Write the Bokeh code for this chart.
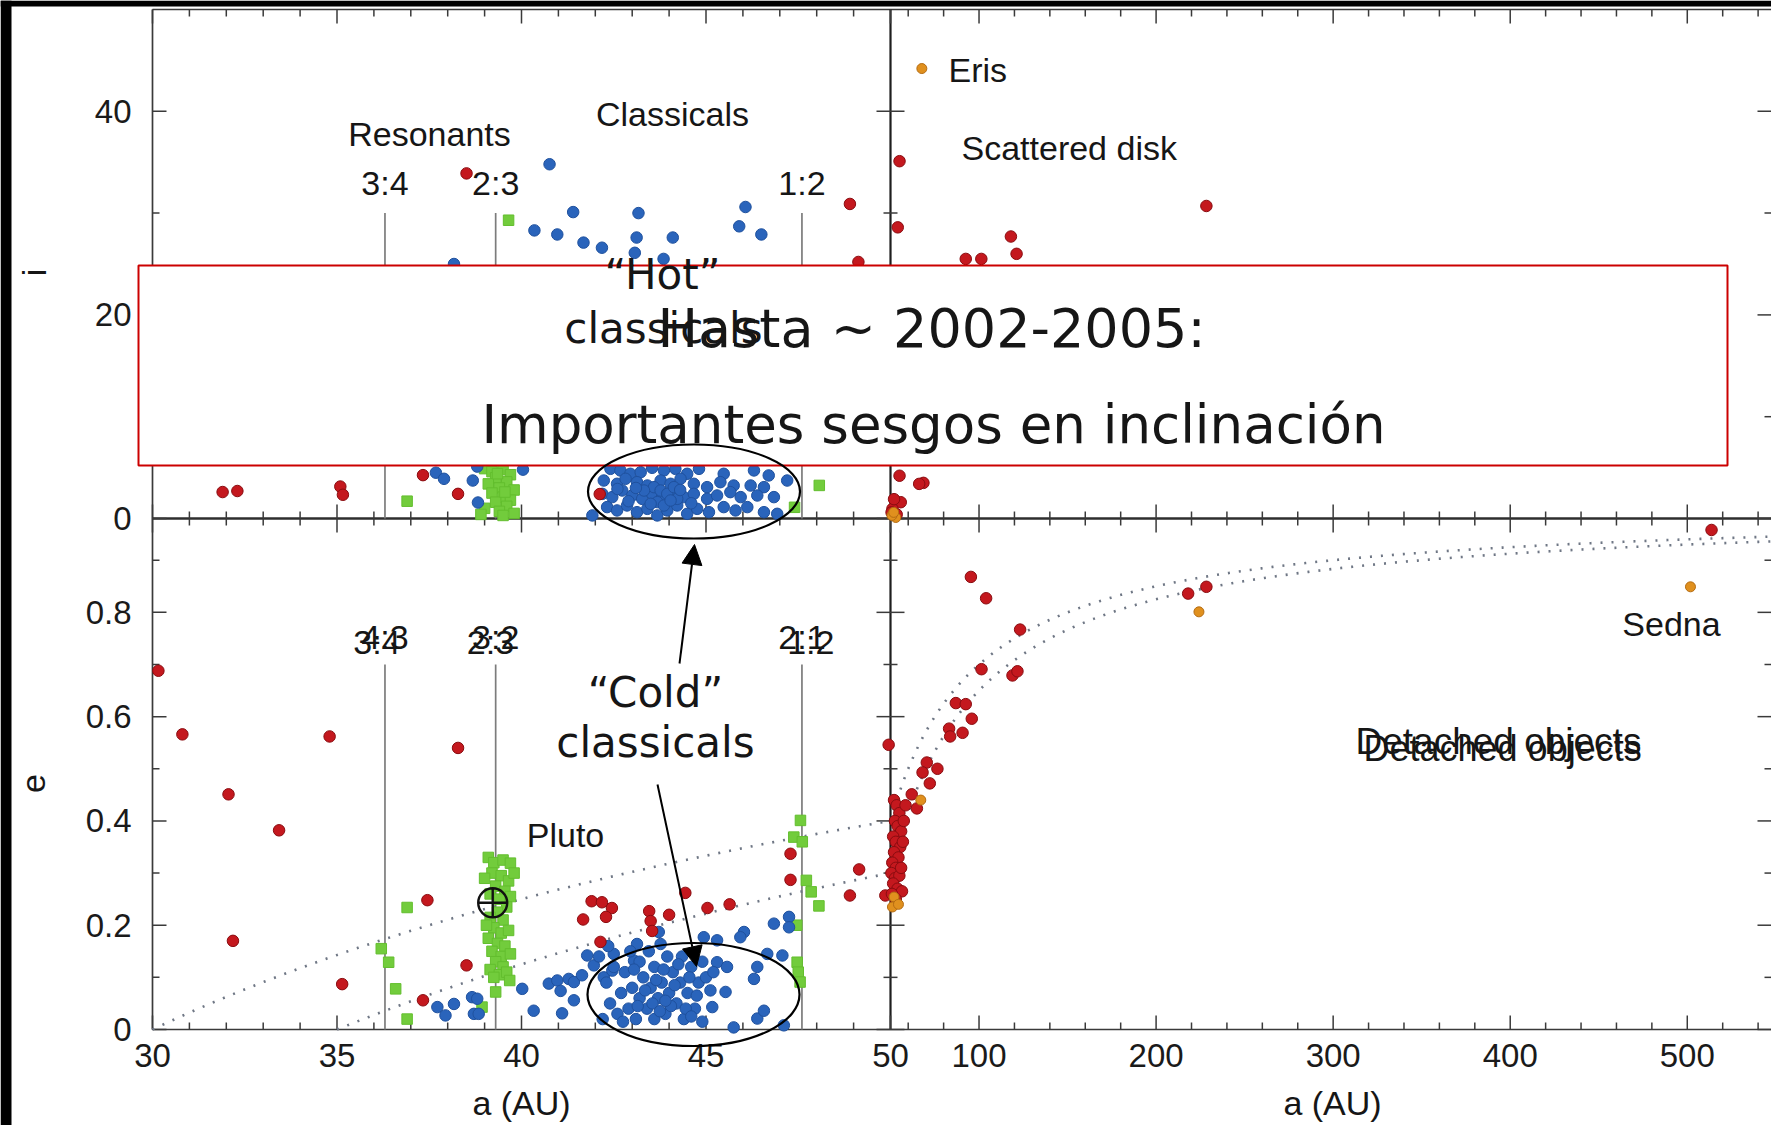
import numpy as np
from bokeh.core.properties import value
from bokeh.embed import file_html
from bokeh.models import Arrow, Label, NormalHead, Range1d
from bokeh.plotting import figure
from bokeh.resources import INLINE

# ------------------------------------------------------------------ data
# Neptune resonances (semimajor axis, AU)
RES_A = [36.3, 39.3, 47.6]
RES_TOP = ["3:4", "2:3", "1:2"]
RES_BOT = ["4:3", "3:2", "2:1"]

# perihelion distances of the reference curves e = 1 - q/a
Q_CURVES = [30, 35]

# ticks
I_TICKS = [0, 20, 40]
I_LABELS = ["0", "20", "40"]
I_MINOR = [10, 30]
E_TICKS = [0, 0.2, 0.4, 0.6, 0.8]
E_LABELS = ["0", "0.2", "0.4", "0.6", "0.8"]
E_MINOR = [0.1, 0.3, 0.5, 0.7, 0.9]
AIN_TICKS = [30, 35, 40, 45, 50]
AIN_LABELS = ["30", "35", "40", "45", "50"]
AIN_MINOR = [31, 32, 33, 34, 36, 37, 38, 39, 41, 42, 43, 44, 46, 47, 48, 49]
AOUT_TICKS = [100, 200, 300, 400, 500]
AOUT_LABELS = ["100", "200", "300", "400", "500"]
AOUT_MINOR = [60, 80, 120, 140, 160, 180, 220, 240, 260, 280, 320, 340, 360, 380,
              420, 440, 460, 480, 520, 540]

# --- inclination panel (a in AU, i in deg), inner region 30-50 AU
blue_i_a = [40.76, 41.4, 43.17, 46.07, 45.9, 46.5, 40.35, 40.97, 41.68, 42.18, 43.12,
            44.1, 43.07, 43.85, 38.17, 37.68, 37.9, 38.68, 38.82, 38.8, 40.04,
            42.41, 42.68, 42.95, 43.23, 43.54, 43.86, 44.17, 44.49, 44.81, 45.48, 46.3, 46.7, 47.2,
            42.23, 42.59, 42.82, 43.13, 43.41, 43.77, 44.04, 44.31, 44.67, 45.03, 45.39, 45.75, 46.21, 46.57,
            42.19, 42.46, 42.73, 43.0, 43.27, 43.54, 43.81, 44.08, 44.4, 44.67, 45.03, 45.3, 45.66, 45.94, 46.39, 46.84,
            41.92, 42.32, 42.59, 42.86, 43.13, 43.41, 43.68, 43.95, 44.22, 44.49, 44.76, 45.08, 45.48, 45.8, 46.12, 46.57, 46.93,
            43.59, 43.77, 43.95, 44.13, 44.22, 43.68, 43.86, 44.04, 43.5, 43.32, 44.3, 43.1, 42.9, 44.6, 42.6]
blue_i_i = [34.8, 30.1, 30.0, 30.6, 28.7, 27.9, 28.3, 27.9, 27.1, 26.6, 27.6,
            27.6, 26.1, 25.5, 25.0, 4.5, 3.9, 3.73, 1.57, 5.1, 4.8,
            4.88, 4.72, 4.39, 4.55, 4.98, 4.72, 4.88, 4.39, 4.88, 4.39, 4.72, 4.23, 3.73,
            3.73, 3.41, 3.9, 3.57, 3.24, 3.73, 3.41, 3.9, 3.41, 3.08, 3.57, 3.24, 3.24, 3.08,
            2.42, 2.1, 2.75, 2.26, 1.93, 2.42, 2.1, 2.59, 2.1, 2.42, 1.93, 2.26, 2.59, 2.1, 2.26, 2.1,
            0.3, 1.12, 0.79, 1.28, 0.62, 0.95, 0.3, 0.79, 1.28, 0.46, 0.95, 0.62, 1.12, 0.79, 1.12, 0.62, 0.46,
            3.08, 2.75, 2.42, 3.08, 1.93, 1.61, 1.28, 1.77, 1.44, 2.75, 2.8, 3.0, 1.7, 1.5, 2.9]
red_i_a = [38.51, 48.9, 49.13, 31.9, 32.3, 35.09, 35.16, 37.33, 38.28, 42.12]
red_i_i = [33.9, 30.9, 25.2, 2.6, 2.7, 3.14, 2.33, 4.26, 2.42, 2.4]
green_i_a = [39.65, 36.9, 39.0, 39.2, 39.5, 39.7, 39.3, 39.6, 39.1, 39.4, 39.8, 39.2, 39.5,
             39.7, 39.3, 39.6, 39.0, 39.4, 39.8, 38.9, 39.5, 39.35, 39.55, 48.07, 47.4]
green_i_i = [29.3, 1.7, 4.9, 4.6, 4.8, 4.3, 4.0, 3.6, 3.4, 3.0, 2.8, 2.5, 2.1,
             1.8, 1.6, 1.2, 1.0, 0.7, 0.5, 0.4, 0.3, 4.4, 2.6, 3.25, 1.1]
# outer region 50-550 AU
red_io_a = [55.1, 54.1, 228.4, 118.0, 121.2, 92.5, 101.3, 55.1, 68.6, 55.8, 51.1, 52.0, 50.6, 53.5, 66.2]
red_io_i = [35.1, 28.6, 30.7, 27.7, 26.0, 25.5, 25.5, 4.2, 3.5, 1.6, 0.95, 1.9, 0.6, 0.4, 3.4]
orange_io_a = [67.7, 53.0, 50.8, 51.8]
orange_io_i = [44.2, 0.1, 0.3, 0.6]

# --- eccentricity panel (a in AU, e), inner region
red_e_a = [30.16, 30.81, 32.06, 32.18, 33.43, 34.8, 35.14, 38.28, 37.45, 38.51, 37.33,
           41.67, 41.9, 42.18, 42.45, 42.29, 42.14, 43.46, 43.5, 43.54, 44.0, 44.44,
           45.04, 45.64, 47.29, 47.29, 48.9, 49.15, 49.86, 49.95]
red_e_e = [0.688, 0.566, 0.451, 0.170, 0.382, 0.562, 0.087, 0.540, 0.248, 0.123, 0.056,
           0.211, 0.246, 0.244, 0.233, 0.216, 0.168, 0.227, 0.208, 0.189, 0.220, 0.262,
           0.233, 0.240, 0.337, 0.287, 0.257, 0.307, 0.257, 0.546]
green_e_a = [36.2, 36.4, 36.59, 36.9, 36.9,
             39.1, 39.25, 39.5, 39.7, 39.2, 39.45, 39.65, 39.3, 39.55, 39.15, 39.4, 39.7,
             39.6, 39.35, 39.15, 39.5, 39.25, 39.45, 39.65, 39.1, 39.35, 39.55, 39.2, 39.45,
             39.7, 39.3, 39.5, 39.15, 39.4, 39.6, 39.25, 39.3, 39.68, 38.93, 39.0, 39.8, 39.05,
             47.56, 47.38, 47.61, 47.72, 47.85, 48.06, 47.46, 47.47, 47.5, 47.55]
green_e_e = [0.155, 0.129, 0.078, 0.02, 0.234,
             0.33, 0.32, 0.325, 0.319, 0.30, 0.295, 0.285, 0.275, 0.265, 0.26, 0.25, 0.255,
             0.235, 0.225, 0.215, 0.21, 0.195, 0.185, 0.19, 0.175, 0.165, 0.16, 0.15, 0.14,
             0.145, 0.13, 0.12, 0.115, 0.105, 0.11, 0.10, 0.072, 0.094, 0.043, 0.29, 0.30, 0.2,
             0.401, 0.369, 0.36, 0.286, 0.264, 0.237, 0.2, 0.129, 0.11, 0.091]
blue_e_a = [37.72, 37.94, 38.17, 38.66, 38.8, 38.71, 38.84, 40.02, 40.33, 40.74, 40.97,
            41.06, 41.1, 41.28, 41.42, 41.42, 41.64, 41.78, 41.96, 42.23, 42.46,
            46.84, 47.25, 47.25, 46.03, 45.93, 44.94, 45.3, 43.72, 43.77, 43.13, 42.5,
            43.05, 46.66, 47.07, 46.39, 45.3, 45.57, 46.3, 45.12, 45.53, 45.17, 46.39,
            46.57, 45.75, 47.11,
            42.2, 42.4, 42.3, 42.6, 42.7, 42.5, 42.8, 42.9, 43.0, 43.1, 43.2, 43.3, 43.4,
            43.5, 43.6, 43.6, 43.7, 43.8, 43.9, 44.0, 44.1, 44.2, 44.3, 44.4, 44.5, 44.6,
            44.7, 44.8, 44.9, 43.2, 43.45, 43.95, 44.35, 42.95, 43.55, 43.75, 44.05, 44.15,
            43.35, 43.85, 44.55, 44.75, 42.75, 43.05, 43.65, 44.25, 44.45, 43.15, 43.9,
            44.6, 45.0, 45.2, 44.9, 42.1, 42.35]
blue_e_e = [0.043, 0.027, 0.049, 0.062, 0.059, 0.030, 0.030, 0.078, 0.036, 0.088, 0.094,
            0.074, 0.031, 0.097, 0.091, 0.056, 0.104, 0.142, 0.123, 0.100, 0.113,
            0.203, 0.216, 0.196, 0.187, 0.177, 0.177, 0.171, 0.187, 0.164, 0.164, 0.145,
            0.132, 0.145, 0.142, 0.120, 0.129, 0.120, 0.097, 0.075, 0.072, 0.043, 0.021,
            0.036, 0.004, 0.008,
            0.02, 0.05, 0.09, 0.03, 0.07, 0.12, 0.11, 0.04, 0.08, 0.02, 0.06, 0.10, 0.04,
            0.08, 0.02, 0.12, 0.06, 0.09, 0.03, 0.07, 0.11, 0.05, 0.09, 0.02, 0.07, 0.12,
            0.04, 0.09, 0.13, 0.13, 0.15, 0.14, 0.14, 0.15, 0.05, 0.035, 0.045, 0.085,
            0.075, 0.115, 0.10, 0.065, 0.015, 0.115, 0.095, 0.125, 0.04, 0.045, 0.055,
            0.025, 0.10, 0.11, 0.015, 0.14, 0.16]
# outer region
red_eo_a = [95.4, 104.0, 123.2, 101.4, 118.9, 121.7, 86.9, 92.5, 95.9, 83.1, 83.7, 90.7,
            70.5, 76.5, 68.1, 72.2, 62.0, 64.9, 218.1, 228.4, 513.7,
            52.0, 53.5, 55.0, 52.5, 54.0, 56.0, 51.5, 53.0, 55.5, 52.0, 54.5, 51.0, 53.0,
            50.5, 52.5, 55.0, 51.5, 54.0, 56.5, 50.8, 53.0, 57.0, 58.5, 57.5, 56.0]
red_eo_e = [0.868, 0.827, 0.767, 0.691, 0.679, 0.687, 0.626, 0.624, 0.596, 0.577, 0.562, 0.569,
            0.512, 0.500, 0.493, 0.472, 0.451, 0.424, 0.836, 0.849, 0.958,
            0.44, 0.43, 0.415, 0.40, 0.39, 0.38, 0.37, 0.36, 0.35, 0.34, 0.33, 0.32, 0.31,
            0.30, 0.29, 0.295, 0.28, 0.27, 0.265, 0.26, 0.25, 0.36, 0.43, 0.40, 0.31]
orange_eo_a = [67.1, 52.0, 51.1, 224.2, 501.8, 54.5]
orange_eo_e = [0.44, 0.254, 0.235, 0.801, 0.849, 0.24]

PLUTO_A, PLUTO_E = [39.22], [0.243]

# ------------------------------------------------------------------ layout
W, H = 1771, 1125
X0, XD, X1 = 152, 890, 1770          # panel left, divider, right (px)
YT, YM, YB = 9, 518, 1029            # panel top, divider, bottom (px)
A_OUT_MAX, I_MAX, E_MAX = 547.0, 50.0, 0.98
PX_AIN = (XD - X0) / 20.0
PX_AOUT = (X1 - XD) / (A_OUT_MAX - 50.0)
PX_I = (YM - YT) / I_MAX
PX_E = (YB - YM) / E_MAX


def xa_in(v): return X0 + (v - 30.0) * PX_AIN
def xa_out(v): return XD + (v - 50.0) * PX_AOUT
def yi(v): return YM - v * PX_I
def ye(v): return YB - v * PX_E


# the frame spans the whole page; the default ranges are page pixels (y downward)
p = figure(width=W, height=H, x_range=Range1d(0, W), y_range=Range1d(H, 0),
           x_axis_type=None, y_axis_type=None, output_backend="svg",
           toolbar_location=None, min_border_left=0, min_border_right=0,
           min_border_top=0, min_border_bottom=0)
p.extra_x_ranges = {
    "a_in": Range1d(30.0 - X0 / PX_AIN, 30.0 + (W - X0) / PX_AIN),
    "a_out": Range1d(50.0 - XD / PX_AOUT, 50.0 + (W - XD) / PX_AOUT),
}
p.extra_y_ranges = {
    "inc": Range1d(-(H - YM) / PX_I, YM / PX_I),
    "ecc": Range1d(-(H - YB) / PX_E, YB / PX_E),
}
p.background_fill_color = "white"
p.border_fill_color = "white"
p.outline_line_color = None

FIG_FONT = "Liberation Sans"
SLIDE_FONT = "DejaVu Sans"
TICK_COL = "#3a3a3a"

# ---- panel box (left, bottom, top) and dividers
p.segment(x0=[X0, X0, X0], y0=[YT, YB, YT], x1=[X0, X1 + 2, X1 + 2], y1=[YB, YB, YT],
          line_color="#3a3a3a", line_width=1.7)
p.segment(x0=[X0], y0=[YM], x1=[X1 + 2], y1=[YM], line_color="#2e2e2e", line_width=2.6)
p.segment(x0=[XD], y0=[YT], x1=[XD], y1=[YB], line_color="#1e1e1e", line_width=2.2)

# ---- ticks (inward on the box, crossing on the dividers)
y_major = [yi(v) for v in I_TICKS] + [ye(v) for v in E_TICKS]
y_minor = [yi(v) for v in I_MINOR] + [ye(v) for v in E_MINOR]
x_major = [xa_in(v) for v in AIN_TICKS] + [xa_out(v) for v in AOUT_TICKS]
x_minor = [xa_in(v) for v in AIN_MINOR] + [xa_out(v) for v in AOUT_MINOR]

for xs, ln in ((x_major, 14), (x_minor, 7)):
    n = len(xs)
    p.segment(x0=xs, y0=[YT] * n, x1=xs, y1=[YT + ln] * n, line_color=TICK_COL, line_width=1.5)
    p.segment(x0=xs, y0=[YB] * n, x1=xs, y1=[YB - ln] * n, line_color=TICK_COL, line_width=1.5)
    p.segment(x0=xs, y0=[YM - ln] * n, x1=xs, y1=[YM + ln] * n, line_color=TICK_COL, line_width=1.5)
for ys, ln in ((y_major, 14), (y_minor, 7)):
    n = len(ys)
    p.segment(x0=[X0] * n, y0=ys, x1=[X0 + ln] * n, y1=ys, line_color=TICK_COL, line_width=1.5)
    p.segment(x0=[X1 + 1] * n, y0=ys, x1=[X1 + 1 - ln] * n, y1=ys, line_color=TICK_COL, line_width=1.5)
    p.segment(x0=[XD - ln] * n, y0=ys, x1=[XD + ln] * n, y1=ys, line_color=TICK_COL, line_width=1.5)

# ---- tick labels
p.text(x=[X0 - 21] * len(y_major), y=y_major, text=I_LABELS + E_LABELS,
       text_font=value(FIG_FONT), text_font_size=value("33px"), text_color="#1a1a1a",
       text_align="right", text_baseline="middle")
p.text(x=x_major, y=[YB + 26] * len(x_major), text=AIN_LABELS + AOUT_LABELS,
       text_font=value(FIG_FONT), text_font_size=value("33px"), text_color="#1a1a1a",
       text_align="center", text_baseline="middle")

# ---- resonance lines
nres = len(RES_A)
p.segment(x0=RES_A, y0=[0] * nres, x1=RES_A, y1=[30] * nres, x_range_name="a_in",
          y_range_name="inc", line_color="#7c7c7c", line_width=1.7)
p.segment(x0=RES_A, y0=[0] * nres, x1=RES_A, y1=[0.7] * nres, x_range_name="a_in",
          y_range_name="ecc", line_color="#7c7c7c", line_width=1.7)

# ---- constant-perihelion curves
for q in Q_CURVES:
    a1 = np.linspace(q, 50.0, 80)
    p.line(a1, 1.0 - q / a1, x_range_name="a_in", y_range_name="ecc",
           line_color="#6f7785", line_width=2.6, line_dash="2 9")
    a2 = np.linspace(50.0, A_OUT_MAX, 300)
    p.line(a2, 1.0 - q / a2, x_range_name="a_out", y_range_name="ecc",
           line_color="#6f7785", line_width=2.6, line_dash="2 9")

# ---- objects
RED = dict(marker="circle", size=11.5, fill_color="#c4181e", line_color="#8a0c10", line_width=1)
BLUE = dict(marker="circle", size=11.5, fill_color="#2a64bb", line_color="#1f519e", line_width=1)
GREEN = dict(marker="square", size=10.5, fill_color="#72cc3c", line_color="#63be2e", line_width=1)
ORANGE = dict(marker="circle", size=10, fill_color="#e0901e", line_color="#b56c12", line_width=1)

p.scatter(green_i_a, green_i_i, x_range_name="a_in", y_range_name="inc", **GREEN)
p.scatter(blue_i_a, blue_i_i, x_range_name="a_in", y_range_name="inc", **BLUE)
p.scatter(red_i_a, red_i_i, x_range_name="a_in", y_range_name="inc", **RED)
p.scatter(red_io_a, red_io_i, x_range_name="a_out", y_range_name="inc", **RED)
p.scatter(orange_io_a, orange_io_i, x_range_name="a_out", y_range_name="inc", **ORANGE)

p.scatter(green_e_a, green_e_e, x_range_name="a_in", y_range_name="ecc", **GREEN)
p.scatter(blue_e_a, blue_e_e, x_range_name="a_in", y_range_name="ecc", **BLUE)
p.scatter(red_e_a, red_e_e, x_range_name="a_in", y_range_name="ecc", **RED)
p.scatter(red_eo_a, red_eo_e, x_range_name="a_out", y_range_name="ecc", **RED)
p.scatter(orange_eo_a, orange_eo_e, x_range_name="a_out", y_range_name="ecc", **ORANGE)

p.scatter(PLUTO_A, PLUTO_E, x_range_name="a_in", y_range_name="ecc", marker="circle_cross",
          size=29, fill_color=None, line_color="#111111", line_width=2.4)

# ---- slide edges
p.quad(left=[0, 0], right=[11, W], top=[0, 0], bottom=[H, 6], fill_color="black",
       line_color=None)

# ---- overlay box
p.quad(left=[138], right=[1727], top=[265], bottom=[465], fill_color="white",
       fill_alpha=1.0, line_color="#cc0000", line_alpha=1.0, line_width=2)

# ---- ellipses around the cold classicals
p.ellipse(x=[693.5, 693], y=[491, 994], width=[212, 212], height=[94, 103],
          width_units="screen", height_units="screen", fill_color=None,
          line_color="black", line_alpha=1.0, line_width=2.2)

# ---- arrows
for xs_, ys_, xe_, ye_ in ((679, 663, 694, 544), (657, 784, 696, 966)):
    p.add_layout(Arrow(x_start=xs_, y_start=ys_, x_end=xe_, y_end=ye_, line_width=2,
                       line_color="black",
                       end=NormalHead(size=20, fill_color="black", line_color="black")))


# ---- texts
def lab(text, x, y, size="34px", align="center", font=FIG_FONT, angle=0.0, **kw):
    p.add_layout(Label(x=x, y=y, text=text, text_font=font, text_font_size=size,
                       text_align=align, text_baseline="middle", text_color="#161616",
                       angle=angle, **kw))


lab("Resonants", 429, 133)
lab("Classicals", 672, 113)
for a, t in zip(RES_A, RES_TOP):
    lab(t, a, 182, x_range_name="a_in")
for a, t in zip(RES_A, RES_BOT):
    lab(t, a, 636, x_range_name="a_in")
for a, t, dx in zip(RES_A, RES_TOP, [-0.22, -0.14, 0.24]):
    lab(t, a + dx, 641, x_range_name="a_in")
lab("Eris", 948, 69, align="left")
lab("Scattered disk", 961, 147, align="left")
lab("Pluto", 565, 834)
lab("Sedna", 1671, 623)
lab("Detached objects", 1355, 741, size="37px", align="left")
lab("Detached objects", 1363, 748, size="36px", align="left")
lab("a (AU)", 521, 1102, size="34px")
lab("a (AU)", 1332, 1102, size="34px")
lab("i", 33, 272, angle=np.pi / 2)
lab("e", 33, 783, angle=np.pi / 2)

lab("\u201cHot\u201d", 662, 274, size="42px", font=SLIDE_FONT)
lab("classicals", 663, 328, size="42px", font=SLIDE_FONT)
lab("Hasta ~ 2002-2005:", 931, 328, size="54px", font=SLIDE_FONT)
lab("Importantes sesgos en inclinación", 933, 424, size="53px", font=SLIDE_FONT)
lab("\u201cCold\u201d", 655, 692, size="42px", font=SLIDE_FONT)
lab("classicals", 655, 742, size="42px", font=SLIDE_FONT)

open("out.html", "w").write(file_html(p, INLINE))
